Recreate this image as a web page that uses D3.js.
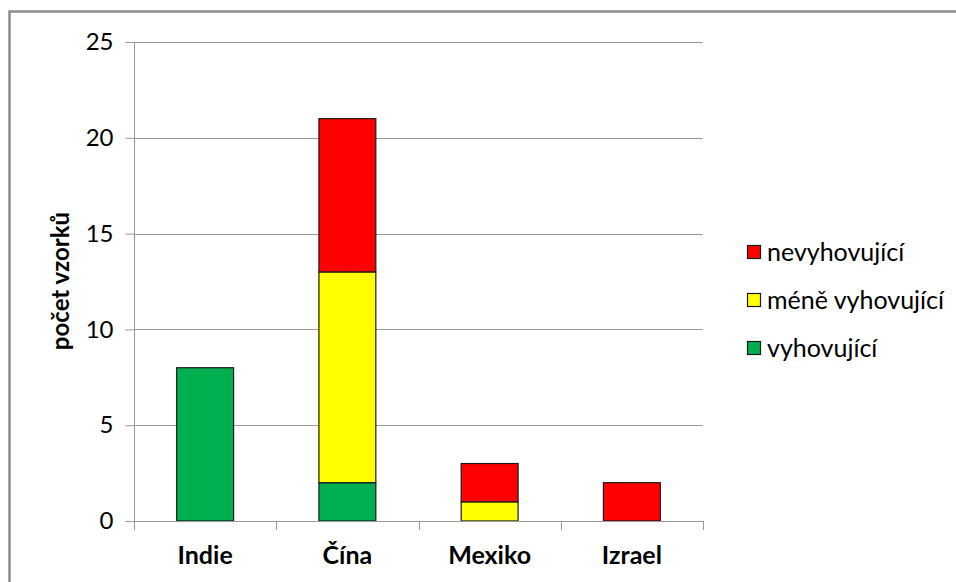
<!DOCTYPE html>
<html>
<head>
<meta charset="utf-8">
<script src="https://cdn.jsdelivr.net/npm/d3@7"></script>
<style>
  html, body { margin: 0; padding: 0; background: #fff; }
  svg { display: block; }
  text { font-family: Lato, "Open Sans", sans-serif; fill: #000; }
</style>
</head>
<body>
<svg id="chart" width="956" height="582"></svg>
<script>
// Countries and sample counts per rating
const categories = ["Indie", "Čína", "Mexiko", "Izrael"];
const seriesNames = ["vyhovující", "méně vyhovující", "nevyhovující"];
const vyhovujici = [8, 2, 0, 0];
const meneVyhovujici = [0, 11, 1, 0];
const nevyhovujici = [0, 8, 2, 2];
const seriesColors = ["#00B050", "#FFFF00", "#FF0000"];
const yTicks = [0, 5, 10, 15, 20, 25];

const svg = d3.select("#chart");
const W = 956, H = 582;

// Outer frame
svg.append("rect")
  .attr("x", 9.5).attr("y", 11.5)
  .attr("width", W + 20).attr("height", H + 20)
  .attr("fill", "#fff").attr("stroke", "#8c8c8c").attr("stroke-width", 2.5);

const plot = { left: 134, right: 703, top: 42, bottom: 521 };

const x = d3.scaleBand().domain(categories)
  .range([plot.left, plot.right]).paddingInner(0.6).paddingOuter(0.3);
const xBand = d3.scaleBand().domain(categories).range([plot.left, plot.right]);
const y = d3.scaleLinear().domain([0, 25]).range([plot.bottom, plot.top]);

// Horizontal gridlines
svg.append("g").selectAll("line").data(yTicks.filter(d => d > 0)).join("line")
  .attr("x1", plot.left).attr("x2", plot.right)
  .attr("y1", d => Math.round(y(d)) + 0.5).attr("y2", d => Math.round(y(d)) + 0.5)
  .attr("stroke", "#999").attr("stroke-width", 1);

// Stacked bars
const table = categories.map((c, i) => ({
  cat: c,
  "vyhovující": vyhovujici[i],
  "méně vyhovující": meneVyhovujici[i],
  "nevyhovující": nevyhovujici[i]
}));
const stacked = d3.stack().keys(seriesNames)(table);

svg.append("g").selectAll("g").data(stacked).join("g")
  .attr("fill", (d, i) => seriesColors[i])
  .selectAll("rect").data(d => d.filter(p => p[1] - p[0] > 0)).join("rect")
  .attr("x", d => x(d.data.cat))
  .attr("width", x.bandwidth())
  .attr("y", d => y(d[1]))
  .attr("height", d => y(d[0]) - y(d[1]))
  .attr("stroke", "#1a1a1a").attr("stroke-width", 1.2);

// Y axis
const yAxis = svg.append("g")
  .attr("transform", `translate(${plot.left + 0.5},0)`)
  .call(d3.axisLeft(y).tickValues(yTicks).tickSize(9).tickPadding(12));
yAxis.select(".domain").attr("stroke", "#999").attr("d", `M0,${plot.top}V${plot.bottom}`);
yAxis.selectAll(".tick line").attr("stroke", "#999");
yAxis.selectAll(".tick text")
  .style("font-family", "Lato, 'Open Sans', sans-serif")
  .style("font-size", "24px").attr("fill", "#000");

// X axis with ticks between categories
const xg = svg.append("g");
xg.append("line")
  .attr("x1", plot.left).attr("x2", plot.right)
  .attr("y1", plot.bottom + 0.5).attr("y2", plot.bottom + 0.5)
  .attr("stroke", "#999");
const boundaries = categories.map(c => xBand(c)).concat([plot.right]);
xg.selectAll("line.t").data(boundaries).join("line").attr("class", "t")
  .attr("x1", d => Math.round(d) + 0.5).attr("x2", d => Math.round(d) + 0.5)
  .attr("y1", plot.bottom).attr("y2", plot.bottom + 9)
  .attr("stroke", "#999");
xg.selectAll("text").data(categories).join("text")
  .attr("x", d => xBand(d) + xBand.bandwidth() / 2)
  .attr("y", 564)
  .attr("text-anchor", "middle")
  .style("font-weight", "bold").style("font-size", "25px")
  .text(d => d);

// Y axis title
svg.append("text")
  .attr("transform", "translate(69,281) rotate(-90)")
  .attr("text-anchor", "middle")
  .style("font-weight", "bold").style("font-size", "24px")
  .text("počet vzorků");

// Legend (top series first)
const legendItems = seriesNames.map((n, i) => ({ name: n, color: seriesColors[i] })).reverse();
const lg = svg.append("g").selectAll("g").data(legendItems).join("g")
  .attr("transform", (d, i) => `translate(747,${252 + i * 48})`);
lg.append("rect")
  .attr("x", 0.5).attr("y", -6.5).attr("width", 13).attr("height", 13)
  .attr("fill", d => d.color).attr("stroke", "#1a1a1a").attr("stroke-width", 1.2);
lg.append("text")
  .attr("x", 20).attr("y", 8.5)
  .style("font-size", "25px")
  .text(d => d.name);
</script>
</body>
</html>
